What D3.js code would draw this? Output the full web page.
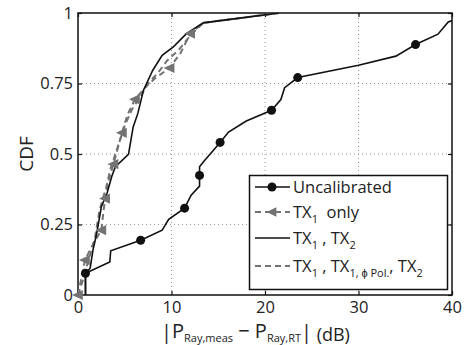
<!DOCTYPE html>
<html>
<head>
<meta charset="utf-8">
<script src="https://cdn.jsdelivr.net/npm/d3@7"></script>
<style>
  body { margin: 0; background: #fff; }
  text { font-family: "Open Sans", sans-serif; fill: #222; }
</style>
</head>
<body>
<div id="chart"></div>
<script>
// data: [error (dB), CDF]
const uncalibrated = [
    [0.8, 0], [0.8, 0.077], [3.4, 0.117], [3.5, 0.157], [6.7, 0.194], [9.0, 0.23],
    [9.7, 0.268], [11.4, 0.308], [12.1, 0.354], [13.0, 0.386], [13.0, 0.424],
    [13.0, 0.455], [13.4, 0.472], [15.2, 0.541], [16.1, 0.578], [18.0, 0.617],
    [20.7, 0.655], [21.7, 0.693], [22.1, 0.735], [23.5, 0.771], [30.0, 0.815],
    [34.0, 0.847], [36.1, 0.888], [38.5, 0.925], [39.6, 0.968], [40.5, 0.98]
];
const uncalMarkers = [0.8, 6.7, 11.4, 13.0, 15.2, 20.7, 23.5, 36.1];

const tx1Only = [
    [0, 0], [0.75, 0.124], [1.6, 0.18], [2.5, 0.23], [2.7, 0.29], [2.9, 0.342],
    [3.3, 0.41], [3.8, 0.464], [4.7, 0.575], [5.3, 0.64], [6.1, 0.694], [7.3, 0.74],
    [8.3, 0.77], [9.8, 0.805], [11.0, 0.86], [12.0, 0.927], [13.4, 0.965], [21.5, 1]
];
const tx1Markers = [0, 0.75, 2.5, 2.9, 3.8, 4.7, 6.1, 9.8, 12.0];

const tx1tx2 = [
    [0.8, 0], [0.8, 0.077], [1.3, 0.095], [1.6, 0.159], [2.0, 0.218], [2.5, 0.313],
    [3.1, 0.36], [3.6, 0.419], [4.0, 0.455], [5.4, 0.499], [5.9, 0.596], [6.4, 0.644],
    [7.0, 0.726], [8.0, 0.797], [9.0, 0.85], [10.2, 0.88], [11.6, 0.927],
    [13.4, 0.965], [21.5, 1]
];

const tx1PolTx2 = [
    [0, 0], [0.5, 0.05], [1.0, 0.11], [1.8, 0.2], [2.3, 0.3], [3.0, 0.38],
    [3.5, 0.45], [4.2, 0.52], [5.0, 0.6], [5.8, 0.66], [6.6, 0.7], [7.5, 0.75],
    [8.6, 0.79], [9.5, 0.83], [10.8, 0.87], [12.0, 0.92], [13.4, 0.965], [21.5, 1]
];

const xTicks = [0, 10, 20, 30, 40];
const yTicks = [0, 0.25, 0.5, 0.75, 1];

const svgAttr = { width: 467, height: 345 };
const margin = { top: 13, right: 15, bottom: 50, left: 78 };
const grey = "#737373";

const svg = d3.select("#chart")
              .append("svg")
              .attr("width", svgAttr.width)
              .attr("height", svgAttr.height);

const x = d3.scaleLinear().domain([0, 40]).range([margin.left, svgAttr.width - margin.right]);
const y = d3.scaleLinear().domain([0, 1]).range([svgAttr.height - margin.bottom, margin.top]);

svg.append("defs").append("clipPath")
   .attr("id", "plot")
   .append("rect")
   .attr("x", x(0) - 6).attr("y", y(1) - 6)
   .attr("width", x(40) - x(0) + 6).attr("height", y(0) - y(1) + 12);

// dotted grid
xTicks.slice(1, -1).forEach(t => {
    svg.append("line")
       .attr("x1", x(t)).attr("x2", x(t)).attr("y1", y(0)).attr("y2", y(1))
       .attr("stroke", "#999").attr("stroke-width", 1).attr("stroke-dasharray", "1,3");
});
yTicks.slice(1, -1).forEach(t => {
    svg.append("line")
       .attr("x1", x(0)).attr("x2", x(40)).attr("y1", y(t)).attr("y2", y(t))
       .attr("stroke", "#999").attr("stroke-width", 1).attr("stroke-dasharray", "1,3");
});

// axes (matlab box with inward ticks)
const fmtY = d => String(d);
const axisStyle = g => {
    g.select(".domain").remove();
    g.selectAll(".tick line").attr("stroke", "#111").attr("stroke-width", 1.2);
    g.selectAll(".tick text").style("font-size", "16.5px").attr("fill", "#222");
};
svg.append("g").attr("transform", `translate(0,${y(0)})`)
   .call(d3.axisBottom(x).tickValues(xTicks).tickSize(-4).tickPadding(6).tickFormat(d3.format("d")))
   .call(axisStyle);
svg.append("g").attr("transform", `translate(0,${y(1)})`)
   .call(d3.axisTop(x).tickValues(xTicks).tickSize(-4).tickFormat(""))
   .call(axisStyle);
svg.append("g").attr("transform", `translate(${x(0)},0)`)
   .call(d3.axisLeft(y).tickValues(yTicks).tickSize(-4).tickPadding(5).tickFormat(fmtY))
   .call(axisStyle);
svg.append("g").attr("transform", `translate(${x(40)},0)`)
   .call(d3.axisRight(y).tickValues(yTicks).tickSize(-4).tickFormat(""))
   .call(axisStyle);

svg.append("rect")
   .attr("x", x(0)).attr("y", y(1))
   .attr("width", x(40) - x(0)).attr("height", y(0) - y(1))
   .attr("fill", "none").attr("stroke", "#111").attr("stroke-width", 1.5);

const line = d3.line().x(d => x(d[0])).y(d => y(d[1]));
const plot = svg.append("g").attr("clip-path", "url(#plot)");

plot.append("path").attr("d", line(tx1PolTx2))
    .attr("fill", "none").attr("stroke", grey).attr("stroke-width", 2)
    .attr("stroke-dasharray", "6,4");
plot.append("path").attr("d", line(tx1Only))
    .attr("fill", "none").attr("stroke", grey).attr("stroke-width", 2)
    .attr("stroke-dasharray", "6,4");
plot.append("path").attr("d", line(tx1tx2))
    .attr("fill", "none").attr("stroke", "#111").attr("stroke-width", 1.6);
plot.append("path").attr("d", line(uncalibrated))
    .attr("fill", "none").attr("stroke", "#111").attr("stroke-width", 1.6);

const triangle = (cx, cy, s) => `M${cx - s},${cy} L${cx + s * 0.8},${cy - s * 0.85} L${cx + s * 0.8},${cy + s * 0.85} Z`;

tx1Markers.forEach(v => {
    const p = tx1Only.find(d => d[0] === v);
    plot.append("path").attr("d", triangle(x(p[0]), y(p[1]), 6)).attr("fill", grey);
});
uncalMarkers.forEach(v => {
    const pts = uncalibrated.filter(d => d[0] === v);
    const p = v === 13.0 ? pts[1] : pts[pts.length - 1];
    plot.append("circle").attr("cx", x(p[0])).attr("cy", y(p[1])).attr("r", 4.5).attr("fill", "#111");
});

// labels
svg.append("text")
   .attr("transform", `translate(33,${(y(0) + y(1)) / 2}) rotate(-90)`)
   .attr("text-anchor", "middle")
   .style("font-size", "19px")
   .text("CDF");

const xl = svg.append("text")
   .attr("x", 161).attr("y", 338)
   .style("font-size", "20px");
xl.append("tspan").style("font-size", "20px").attr("dy", 1).text("|");
xl.append("tspan").attr("dy", -1).text("P");
xl.append("tspan").style("font-size", "11px").attr("dy", 4).text("Ray,meas");
xl.append("tspan").attr("dy", -4).text(" \u2212 P");
xl.append("tspan").style("font-size", "11px").attr("dy", 4).text("Ray,RT");
xl.append("tspan").style("font-size", "20px").attr("dy", -3).text("|");
xl.append("tspan").style("font-size", "18px").attr("dy", 2).text(" (dB)");

// legend
const lg = svg.append("g");
lg.append("rect")
  .attr("x", 249.5).attr("y", 175.5).attr("width", 198).attr("height", 114)
  .attr("fill", "#fff").attr("stroke", "#111").attr("stroke-width", 1.5);

const legendRows = [
    { y: 187, color: "#111", dash: null, marker: "circle" },
    { y: 212, color: grey, dash: "6,4", marker: "triangle" },
    { y: 238, color: "#111", dash: null, marker: null },
    { y: 266, color: grey, dash: "6,4", marker: null }
];
legendRows.forEach(r => {
    lg.append("line")
      .attr("x1", 255).attr("x2", 290).attr("y1", r.y).attr("y2", r.y)
      .attr("stroke", r.color).attr("stroke-width", r.dash ? 2 : 1.6)
      .attr("stroke-dasharray", r.dash);
    if (r.marker === "circle") {
        lg.append("circle").attr("cx", 272).attr("cy", r.y).attr("r", 4.5).attr("fill", "#111");
    } else if (r.marker === "triangle") {
        lg.append("path").attr("d", triangle(272, r.y, 5.5)).attr("fill", grey);
    }
});

const lt = (row) => lg.append("text").attr("x", 293).attr("y", row.y + 6).style("font-size", "16.5px");
let t = lt(legendRows[0]);
t.text("Uncalibrated");

t = lt(legendRows[1]);
t.append("tspan").text("TX");
t.append("tspan").style("font-size", "11px").attr("dy", 5).text("1");
t.append("tspan").attr("dy", -5).text("\u00a0 only");

t = lt(legendRows[2]);
t.append("tspan").text("TX");
t.append("tspan").style("font-size", "11px").attr("dy", 5).text("1");
t.append("tspan").attr("dy", -5).text("\u00a0, TX");
t.append("tspan").style("font-size", "11px").attr("dy", 5).text("2");

t = lt(legendRows[3]);
t.append("tspan").text("TX");
t.append("tspan").style("font-size", "11px").attr("dy", 5).text("1");
t.append("tspan").attr("dy", -5).text("\u00a0, TX");
t.append("tspan").style("font-size", "11px").attr("dy", 5).text("1, \u03d5 Pol.");
t.append("tspan").attr("dy", -5).text(", TX");
t.append("tspan").style("font-size", "11px").attr("dy", 5).text("2");
</script>
</body>
</html>
